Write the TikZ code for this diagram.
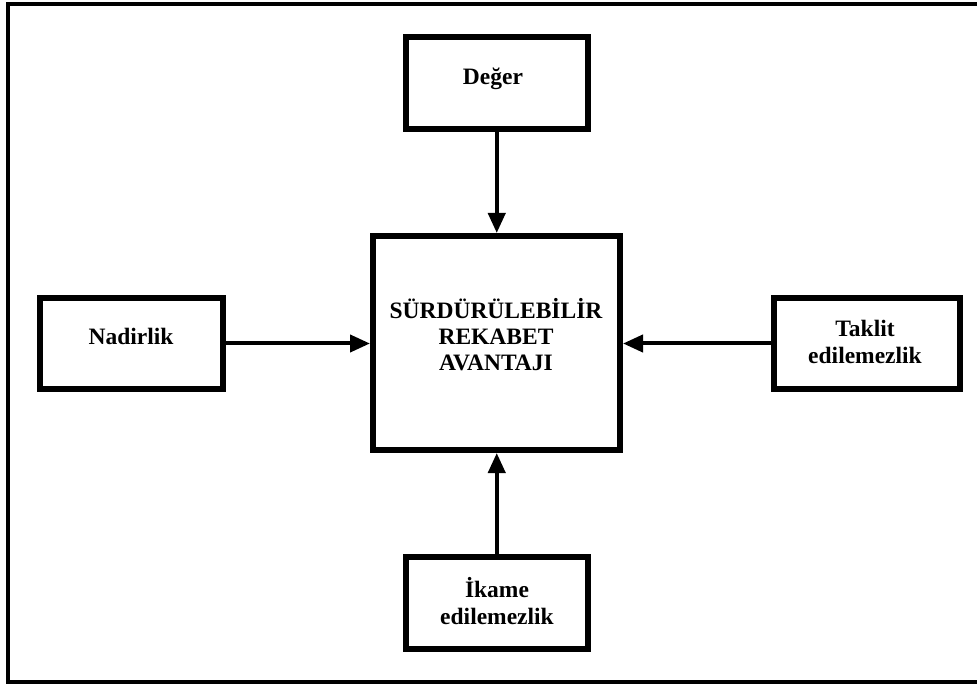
\documentclass[tikz,border=0pt]{standalone}
\usepackage{fontspec}
\setmainfont{Liberation Serif}
\usetikzlibrary{arrows.meta}
\tikzset{
  boxnode/.style={draw=black, line width=6pt, inner sep=0pt, rectangle},
  lbl/.style={font=\fontsize{23.5}{26}\selectfont\bfseries, inner sep=0pt, anchor=base},
  arr/.style={draw=black, line width=4pt, -{Triangle[length=20pt,width=17pt]}},
}
\begin{document}
\begin{tikzpicture}[x=1pt,y=-1pt]
\useasboundingbox (0,0) rectangle (977,684);
\clip (0,0) rectangle (977,684);
\fill[white] (0,0) rectangle (977,684);
% outer frame (right side lies outside the picture)
\draw[line width=4pt] (8,4) rectangle (1000,682);
% boxes
\node[boxnode, minimum width=182.5pt, minimum height=92pt] (deger) at (496.75,83) {};
\node[boxnode, minimum width=247pt, minimum height=214pt] (sra) at (496.5,343) {};
\node[boxnode, minimum width=183pt, minimum height=91pt] (nadir) at (131.5,343.5) {};
\node[boxnode, minimum width=186.5pt, minimum height=91pt] (taklit) at (866.75,343.5) {};
\node[boxnode, minimum width=182.5pt, minimum height=92pt] (ikame) at (496.75,603) {};
% labels
\node[lbl] (tdeger) at (493,85) {Değer};
\node[lbl] (tsra1) at (496,319) {SÜRDÜRÜLEBİLİR};
\node[lbl] (tsra2) at (496,344.5) {REKABET};
\node[lbl] (tsra3) at (496,370.5) {AVANTAJI};
\node[lbl] (tnadir) at (131,345) {Nadirlik};
\node[lbl] (ttaklit1) at (865,336.7) {Taklit};
\node[lbl] (ttaklit2) at (865,364) {edilemezlik};
\node[lbl] (tikame1) at (497,597) {İkame};
\node[lbl] (tikame2) at (497,624) {edilemezlik};
% connectors
\draw[arr] (deger.south) -- (deger.south |- sra.north);
\draw[arr] (nadir.east) -- (nadir.east -| sra.west);
\draw[arr] (taklit.west) -- (taklit.west -| sra.east);
\draw[arr] (ikame.north) -- (ikame.north |- sra.south);
\end{tikzpicture}
\end{document}
